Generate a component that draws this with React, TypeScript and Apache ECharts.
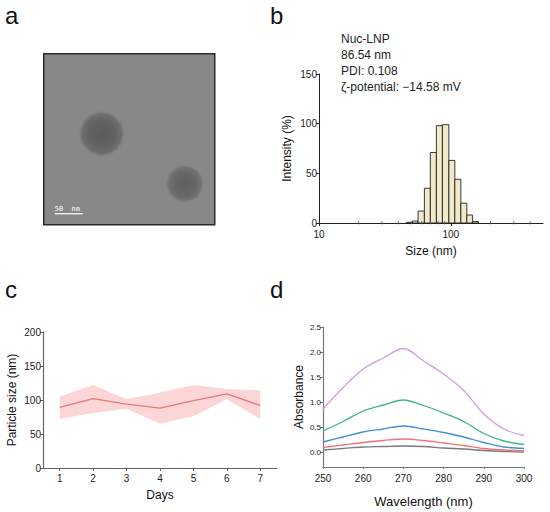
import React, { useEffect, useRef } from 'react';
import * as echarts from 'echarts';

const FONT = "'Liberation Sans', Arial, Helvetica, sans-serif";

// ---------- Panel b: DLS size distribution ----------
const binEdges = [46.0, 51.1, 56.4, 63.0, 69.9, 77.7, 86.3, 96.6, 107.2, 119.1, 132.2, 145.8, 162.1];
const intensity = [0.6, 2, 12, 35, 71, 98, 99, 63, 44, 20, 8, 1.5];
const minorTickValues = [20, 30, 40, 50, 60, 70, 80, 90, 200, 300, 400];
const dlsNotes = ['Nuc-LNP', '86.54 nm', 'PDI: 0.108', 'ζ-potential: −14.58 mV'];

// ---------- Panel c: particle size over days ----------
const days = ['1', '2', '3', '4', '5', '6', '7'];
const sizeMean = [89, 102, 94, 88, 99, 109, 92];
const sizeUpper = [105, 122, 101, 111, 122, 116, 114];
const sizeLower = [72, 81, 87, 65, 76, 101, 72];

// ---------- Panel d: absorbance spectra ----------
const wavelengths = [250, 255, 260, 265, 270, 275, 280, 285, 290, 295, 300];
const absPurple = [0.86, 1.29, 1.66, 1.88, 2.07, 1.82, 1.56, 1.23, 0.76, 0.46, 0.33];
const absGreen = [0.42, 0.61, 0.82, 0.94, 1.04, 0.93, 0.78, 0.61, 0.37, 0.22, 0.15];
const absBlue = [0.2, 0.3, 0.4, 0.46, 0.52, 0.46, 0.39, 0.3, 0.19, 0.1, 0.07];
const absRed = [0.09, 0.14, 0.19, 0.23, 0.26, 0.23, 0.18, 0.13, 0.07, 0.04, 0.02];
const absGray = [0.04, 0.07, 0.1, 0.11, 0.12, 0.11, 0.08, 0.06, 0.03, 0.01, 0.0];
const absTicks = [0, 0.5, 1, 1.5, 2, 2.5];

const pairs = (ys: number[]) => wavelengths.map((w, i) => [w, ys[i]]);

export default function App() {
  const ref = useRef<HTMLDivElement>(null);

  useEffect(() => {
    if (!ref.current) return;
    const chart = echarts.init(ref.current, null, { renderer: 'svg' });

    const tickLabel = { fontFamily: FONT, fontSize: 10, color: '#222' };
    const nameStyle = { fontFamily: FONT, fontSize: 12, color: '#111' };

    const barData = intensity.map((v, i) => [binEdges[i], binEdges[i + 1], v]);

    const specLine = (data: number[], color: string) => ({
      type: 'line',
      xAxisIndex: 2,
      yAxisIndex: 2,
      data: pairs(data),
      smooth: 0.35,
      symbol: 'none',
      lineStyle: { color, width: 1.3 },
      silent: true,
    });

    const option: any = {
      animation: false,
      textStyle: { fontFamily: FONT },
      grid: [
        { left: 319, top: 74, width: 224, height: 149, outerBoundsMode: 'none' },
        { left: 43, top: 332, width: 234, height: 136, outerBoundsMode: 'none' },
        { left: 323, top: 327, width: 201, height: 140, outerBoundsMode: 'none' },
      ],
      xAxis: [
        {
          gridIndex: 0,
          type: 'log',
          logBase: 10,
          min: 10,
          max: 500,
          name: 'Size (nm)',
          nameLocation: 'middle',
          nameGap: 22,
          nameTextStyle: nameStyle,
          axisLine: { show: true, onZero: false, lineStyle: { color: '#222', width: 1 } },
          axisTick: { show: true, length: 3, lineStyle: { color: '#222' } },
          axisLabel: {
            ...tickLabel,
            margin: 6,
            showMaxLabel: false,
            formatter: (v: number) => {
              const l = Math.log10(v);
              return Math.abs(l - Math.round(l)) < 1e-6 ? String(Math.round(v)) : '';
            },
          },
          splitLine: { show: false },
          minorTick: { show: false },
        },
        {
          gridIndex: 1,
          type: 'category',
          data: days,
          boundaryGap: true,
          name: 'Days',
          nameLocation: 'middle',
          nameGap: 21,
          nameTextStyle: nameStyle,
          axisLine: { show: true, onZero: false, lineStyle: { color: '#666', width: 1.2 } },
          axisTick: { show: true, alignWithLabel: true, length: 3, lineStyle: { color: '#666' } },
          axisLabel: { ...tickLabel, margin: 5 },
          splitLine: { show: false },
        },
        {
          gridIndex: 2,
          type: 'value',
          min: 250,
          max: 300,
          interval: 10,
          name: 'Wavelength (nm)',
          nameLocation: 'middle',
          nameGap: 28,
          nameTextStyle: { ...nameStyle, fontSize: 13 },
          axisLine: { show: true, onZero: false, lineStyle: { color: '#777', width: 1.2 } },
          axisTick: { show: true, length: 2, lineStyle: { color: '#777' } },
          axisLabel: { ...tickLabel, margin: 6 },
          splitLine: { show: false },
        },
      ],
      yAxis: [
        {
          gridIndex: 0,
          type: 'value',
          min: 0,
          max: 150,
          interval: 50,
          name: 'Intensity (%)',
          nameLocation: 'middle',
          nameGap: 26,
          nameTextStyle: nameStyle,
          axisLine: { show: true, lineStyle: { color: '#222', width: 1 } },
          axisTick: { show: true, length: 3, lineStyle: { color: '#222' } },
          axisLabel: { ...tickLabel, margin: 2 },
          splitLine: { show: false },
        },
        {
          gridIndex: 1,
          type: 'value',
          min: 0,
          max: 200,
          interval: 50,
          name: 'Particle size (nm)',
          nameLocation: 'middle',
          nameGap: 25,
          nameTextStyle: nameStyle,
          axisLine: { show: true, lineStyle: { color: '#666', width: 1.2 } },
          axisTick: { show: true, length: 3, lineStyle: { color: '#666' } },
          axisLabel: { ...tickLabel, margin: 2 },
          splitLine: { show: false },
        },
        {
          gridIndex: 2,
          type: 'value',
          min: -0.3,
          max: 2.5,
          name: 'Absorbance',
          nameLocation: 'middle',
          nameGap: 18,
          nameTextStyle: nameStyle,
          axisLine: { show: true, lineStyle: { color: '#777', width: 1.2 } },
          axisTick: { show: true, length: 3, customValues: absTicks, lineStyle: { color: '#777' } },
          axisLabel: {
            ...tickLabel,
            fontSize: 8,
            margin: 2,
            customValues: absTicks,
            formatter: (v: number) => v.toFixed(1),
          },
          splitLine: { show: false },
        },
      ],
      series: [
        // panel b histogram
        {
          type: 'custom',
          xAxisIndex: 0,
          yAxisIndex: 0,
          data: barData,
          encode: { x: [0, 1], y: 2 },
          silent: true,
          renderItem: (params: any, api: any) => {
            const p0 = api.coord([api.value(0), api.value(2)]);
            const p1 = api.coord([api.value(1), 0]);
            return {
              type: 'rect',
              shape: { x: p0[0], y: p0[1], width: p1[0] - p0[0], height: p1[1] - p0[1] },
              style: { fill: '#f1e9c8', stroke: '#222', lineWidth: 0.9 },
            };
          },
        },
        // panel b minor ticks on log axis
        {
          type: 'custom',
          xAxisIndex: 0,
          yAxisIndex: 0,
          data: minorTickValues.map((v) => [v, 0]),
          encode: { x: 0, y: 1 },
          silent: true,
          renderItem: (params: any, api: any) => {
            const p = api.coord([api.value(0), 0]);
            return {
              type: 'line',
              shape: { x1: p[0], y1: p[1] - 2, x2: p[0], y2: p[1] + 1.5 },
              style: { stroke: '#555', lineWidth: 0.8 },
            };
          },
        },
        // panel c band (stacked)
        {
          type: 'line',
          xAxisIndex: 1,
          yAxisIndex: 1,
          data: sizeLower,
          stack: 'band',
          symbol: 'none',
          lineStyle: { opacity: 0 },
          silent: true,
        },
        {
          type: 'line',
          xAxisIndex: 1,
          yAxisIndex: 1,
          data: sizeUpper.map((u, i) => u - sizeLower[i]),
          stack: 'band',
          symbol: 'none',
          lineStyle: { opacity: 0 },
          areaStyle: { color: '#fcd6d6', opacity: 1 },
          silent: true,
        },
        {
          type: 'line',
          xAxisIndex: 1,
          yAxisIndex: 1,
          data: sizeMean,
          symbol: 'none',
          lineStyle: { color: '#e8777b', width: 1.3 },
          silent: true,
        },
        // panel d spectra
        specLine(absGray, '#7a7a7a'),
        specLine(absRed, '#f07373'),
        specLine(absBlue, '#3d8fd8'),
        specLine(absGreen, '#3bb588'),
        specLine(absPurple, '#cc9ee0'),
      ],
      graphic: [
        // panel labels
        { type: 'text', left: 5, top: 3, style: { text: 'a', font: `24px ${FONT}`, fill: '#111' } },
        { type: 'text', left: 270, top: 3, style: { text: 'b', font: `24px ${FONT}`, fill: '#111' } },
        { type: 'text', left: 5, top: 277, style: { text: 'c', font: `24px ${FONT}`, fill: '#111' } },
        { type: 'text', left: 270, top: 277, style: { text: 'd', font: `24px ${FONT}`, fill: '#111' } },
        // panel b notes
        ...dlsNotes.map((t, i) => ({
          type: 'text',
          left: 341,
          top: 33 + i * 16,
          style: { text: t, font: `12px ${FONT}`, fill: '#222' },
        })),
        // panel a micrograph
        {
          type: 'group',
          left: 43,
          top: 53,
          children: [
            {
              type: 'rect',
              shape: { x: 0, y: 0, width: 171, height: 171 },
              style: { fill: '#888888', stroke: '#2a2a2a', lineWidth: 1.5 },
            },
            {
              type: 'circle',
              shape: { cx: 58, cy: 80, r: 24 },
              style: {
                fill: {
                  type: 'radial',
                  x: 0.5,
                  y: 0.5,
                  r: 0.5,
                  colorStops: [
                    { offset: 0, color: '#5a5a5a' },
                    { offset: 0.55, color: '#636363' },
                    { offset: 0.82, color: '#6e6e6e' },
                    { offset: 1, color: 'rgba(136,136,136,0)' },
                  ],
                },
              },
            },
            {
              type: 'circle',
              shape: { cx: 141, cy: 130, r: 20 },
              style: {
                fill: {
                  type: 'radial',
                  x: 0.5,
                  y: 0.5,
                  r: 0.5,
                  colorStops: [
                    { offset: 0, color: '#5e5e5e' },
                    { offset: 0.55, color: '#676767' },
                    { offset: 0.82, color: '#727272' },
                    { offset: 1, color: 'rgba(136,136,136,0)' },
                  ],
                },
              },
            },
            {
              type: 'text',
              x: 11,
              y: 152,
              style: { text: '50  nm', font: `7px 'DejaVu Sans Mono', monospace`, fill: '#ffffff' },
            },
            {
              type: 'line',
              shape: { x1: 11, y1: 160, x2: 39, y2: 160 },
              style: { stroke: '#ffffff', lineWidth: 1.2 },
            },
          ],
        },
      ],
    };

    chart.setOption(option);
    return () => chart.dispose();
  }, []);

  return (
    <div
      ref={ref}
      style={{ position: 'absolute', left: 0, top: 0, width: 550, height: 512, background: '#fff' }}
    />
  );
}
